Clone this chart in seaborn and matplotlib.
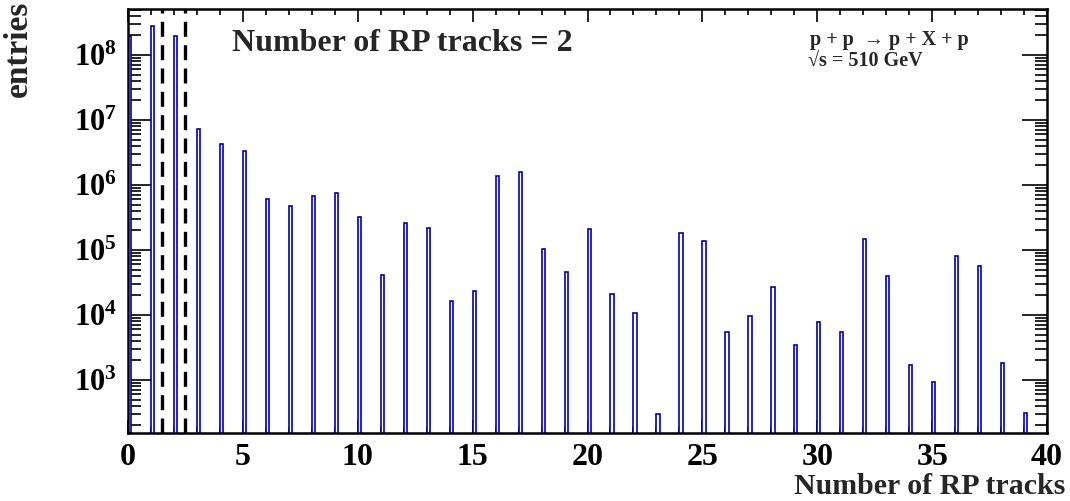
import numpy as np
import pandas as pd
import matplotlib
matplotlib.use("Agg")
import matplotlib.pyplot as plt
import seaborn as sns
from matplotlib.ticker import MultipleLocator, LogLocator, NullFormatter

# ---- data ----
tracks = list(range(0, 40))
entries = [1.95e8, 2.8e8, 1.95e8, 7.3e6, 4.3e6, 3.3e6, 6.1e5, 4.8e5, 6.8e5, 7.6e5,
           3.2e5, 4.1e4, 2.63e5, 2.16e5, 1.64e4, 2.37e4, 1.39e6, 1.57e6, 1.04e5, 4.6e4,
           2.1e5, 2.13e4, 1.08e4, 297, 1.84e5, 1.36e5, 5.4e3, 9.7e3, 2.7e4, 3.5e3,
           7.7e3, 5.4e3, 1.46e5, 4.0e4, 1.72e3, 923, 8.2e4, 5.6e4, 1.8e3, 307]
cut_lines = [1.5, 2.5]
title_text = "Number of RP tracks = 2"
process_text = "p + p  \u2192 p + X + p"
energy_text = "\u221As = 510 GeV"
xlabel_text = "Number of RP tracks"
ylabel_text = "entries"

bin_width = 0.14
df = pd.DataFrame({"x": np.array(tracks) + bin_width / 2, "y": entries})

sns.set_style("ticks")
plt.rcParams["font.family"] = ["Liberation Serif", "DejaVu Serif"]
plt.rcParams["font.weight"] = "bold"
plt.rcParams["mathtext.fontset"] = "custom"
plt.rcParams["mathtext.rm"] = "Liberation Serif:bold"
plt.rcParams["mathtext.bf"] = "Liberation Serif:bold"
plt.rcParams["mathtext.it"] = "Liberation Serif:bold:italic"

fig = plt.figure(figsize=(10.7, 5.01), dpi=100)
ax = fig.add_axes([128 / 1070, 1 - 433 / 501, (1047 - 128) / 1070, (433 - 9) / 501])
ax.set_yscale("log")

sns.barplot(data=df, x="x", y="y", native_scale=True, width=bin_width,
            color="white", edgecolor="#0000b4", linewidth=1.2, ax=ax,
            errorbar=None, zorder=2)
for p in ax.patches:
    p.set_facecolor("white")

for xv in cut_lines:
    ax.axvline(xv, color="black", lw=2.4, ls=(0, (4.5, 2.5)), zorder=3)

ax.set_xlim(0, 40)
ax.set_ylim(10 ** 2.185, 10 ** 8.708)

ax.xaxis.set_major_locator(MultipleLocator(5))
ax.xaxis.set_minor_locator(MultipleLocator(1))
ax.yaxis.set_major_locator(LogLocator(base=10, numticks=20))
ax.yaxis.set_minor_locator(LogLocator(base=10, subs=np.arange(2, 10), numticks=20))
ax.yaxis.set_minor_formatter(NullFormatter())

ax.tick_params(axis="both", which="both", direction="in", top=True, right=True,
               width=1.2, colors="black")
ax.tick_params(axis="x", which="major", length=9.5, labelsize=23, pad=7)
ax.tick_params(axis="x", which="minor", length=4.5)
ax.tick_params(axis="y", which="major", length=18, labelsize=22, pad=8)
ax.tick_params(axis="y", which="minor", length=9)
for lab in ax.get_xticklabels() + ax.get_yticklabels():
    lab.set_fontweight("bold")
for s in ax.spines.values():
    s.set_linewidth(1.8)
    s.set_color("black")
    s.set_visible(True)

ax.set_xlabel("")
ax.set_ylabel("")

ax.text(232 / 1070, 1 - 51 / 501, title_text, transform=fig.transFigure,
        fontsize=23, fontweight="bold", ha="left", va="baseline")
ax.text(810 / 1070, 1 - 45 / 501, process_text, transform=fig.transFigure,
        fontsize=14.5, fontweight="bold", ha="left", va="baseline")
ax.text(808 / 1070, 1 - 67 / 501, energy_text, transform=fig.transFigure,
        fontsize=14.5, fontweight="bold", ha="left", va="baseline")

fig.text(1065 / 1070, 1 - 494 / 501, xlabel_text, fontsize=21.5, fontweight="bold",
         ha="right", va="baseline")
fig.text(34 / 1070, 1 - 1 / 501, ylabel_text, fontsize=24, fontweight="bold",
         rotation=90, ha="right", va="top")

fig.savefig("out.png", dpi=100, facecolor="white")
